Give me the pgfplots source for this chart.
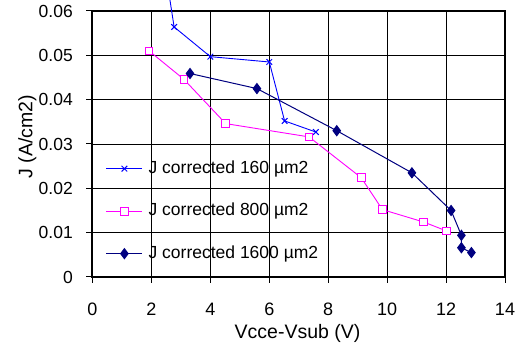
\documentclass[border=0pt]{standalone}
\usepackage{pgfplots}
\pgfplotsset{compat=1.18}
\usepackage{fontspec}
\setmainfont{Liberation Sans}
\definecolor{navy}{RGB}{0,0,128}
\definecolor{mag}{RGB}{255,0,255}
\definecolor{blu}{RGB}{0,0,255}
\begin{document}
\begin{tikzpicture}
\path[use as bounding box] (-92.5pt,-70pt) rectangle (429.5pt,277pt);
\begin{axis}[
  at={(0pt,0pt)}, anchor=south west,
  scale only axis, width=412.5pt, height=266pt,
  xmin=0, xmax=14, ymin=0, ymax=0.06,
  scaled y ticks=false, scaled x ticks=false,
  xtick={0,2,4,6,8,10,12,14},
  xticklabels={0,2,4,6,8,10,12,14},
  ytick={0,0.01,0.02,0.03,0.04,0.05,0.06},
  yticklabels={0,0.01,0.02,0.03,0.04,0.05,0.06},
  grid=major, major grid style={black, line width=0.8pt},
  axis line style={line width=2pt},
  tick align=outside, major tick length=6pt, tick style={black, line width=1pt},
  tick pos=left,
  clip=false,
  xticklabel style={font=\fontsize{18}{20}\selectfont, inner sep=0pt, anchor=north, yshift=-20pt},
  yticklabel style={font=\fontsize{17.5}{20}\selectfont, inner sep=0pt, anchor=east, xshift=-13.5pt},
  every axis x label/.style={at={(axis description cs:0.497,-0.2105)}, anchor=center, font=\fontsize{19.5}{22}\selectfont},
  every axis y label/.style={at={(axis description cs:-0.158,0.528)}, rotate=90, anchor=center, font=\fontsize{19.5}{22}\selectfont},
  xlabel={Vcce-Vsub (V)},
  ylabel={J (A/cm2)},
  legend style={draw=none, fill=none, at={(axis description cs:0.032,0.44)}, anchor=north west,
    inner sep=0pt, row sep=25.5pt, font=\fontsize{17.5}{20}\selectfont,
    nodes={inner sep=0pt, text height=13pt, text depth=4pt},
    /tikz/every odd column/.append style={column sep=5.7pt}},
  legend cell align=left,
  legend image code/.code={\draw[mark repeat=2,mark phase=2] plot coordinates {(0pt,0pt) (18pt,0pt) (36pt,0pt)};},
]
\addplot[blu, line width=0.9pt, mark=x, mark size=4pt, mark options={solid, line width=1pt}]
  coordinates {(2.5,0.068) (2.77,0.0564) (4.0,0.0497) (6.0,0.0485) (6.52,0.0352) (7.58,0.0327)};
\addlegendentry{J corrected 160 µm2}
\addplot[mag, line width=0.9pt, mark=square*, mark size=3.8pt, mark options={solid, fill=white, draw=mag, line width=0.9pt}]
  coordinates {(1.92,0.0510) (3.1,0.0446) (4.52,0.0346) (7.35,0.0316) (9.12,0.0224) (9.84,0.0152) (11.24,0.0124) (12.01,0.0104)};
\addlegendentry{J corrected 800 µm2}
\addplot[navy, line width=1pt, mark=diamond*, mark size=5pt, mark options={solid, fill=navy}]
  coordinates {(3.31,0.0459) (5.58,0.0425) (8.29,0.0330) (10.84,0.0235) (12.17,0.0150) (12.52,0.0094) (12.52,0.0066) (12.86,0.0055)};
\addlegendentry{J corrected 1600 µm2}
\end{axis}
\end{tikzpicture}
\end{document}
